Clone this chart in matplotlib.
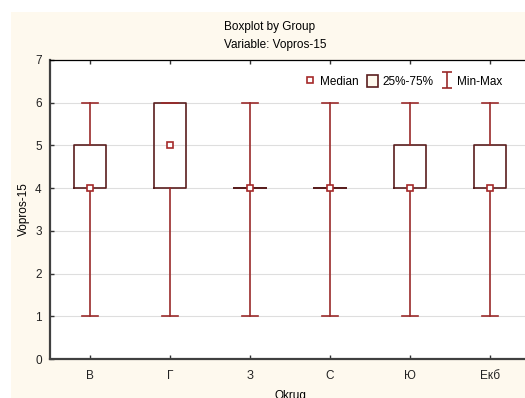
import matplotlib

matplotlib.use("Agg")
import matplotlib.pyplot as plt
from matplotlib.patches import Patch, Rectangle
from matplotlib.lines import Line2D
from matplotlib.path import Path

# data
groups = ["В", "Г", "З", "С", "Ю", "Екб"]
mins = [1, 1, 1, 1, 1, 1]
q1 = [4, 4, 4, 4, 4, 4]
medians = [4, 5, 4, 4, 4, 4]
q3 = [5, 6, 4, 4, 5, 5]
maxs = [6, 6, 6, 6, 6, 6]

plt.rcParams["font.family"] = ["Liberation Sans", "DejaVu Sans"]
plt.rcParams["font.size"] = 8.5

BOX_EDGE = "#5a1e1e"
WHISK = "#9a2a2a"
MED = "#a52a2a"
CREAM = "#fef9ee"

fig = plt.figure(figsize=(5.25, 3.98), dpi=100, facecolor="white")
fig.patches.append(Rectangle((11 / 525, 0), 1, 1 - 12 / 398, transform=fig.transFigure,
                             facecolor=CREAM, edgecolor="none", zorder=-10))

ax = fig.add_axes([50 / 525, 39 / 398, 480 / 525, 299 / 398])
ax.set_facecolor("white")

pos = list(range(1, len(groups) + 1))
stats = [dict(med=m, q1=a, q3=b, whislo=lo, whishi=hi, fliers=[])
         for m, a, b, lo, hi in zip(medians, q1, q3, mins, maxs)]
ax.bxp(stats, positions=pos, widths=0.4, capwidths=0.2, showfliers=False,
       boxprops=dict(color=BOX_EDGE, linewidth=1.2),
       whiskerprops=dict(color=WHISK, linewidth=1.2),
       capprops=dict(color=WHISK, linewidth=1.2),
       medianprops=dict(linewidth=0))
ax.plot(pos, medians, ls="none", marker="s", ms=5, mfc="white", mec=MED, mew=1.2, zorder=5)

ax.set_xlim(0.5, 6.5)
ax.set_ylim(0, 7)
ax.set_yticks(range(0, 8))
ax.set_xticks(pos)
ax.set_xticklabels(groups)
ax.yaxis.grid(True, color="#dedede", linewidth=0.8)
ax.set_axisbelow(True)
ax.tick_params(direction="in", length=3, width=1, colors="#333333", labelcolor="#222222",
               top=True, pad=6)
ax.tick_params(axis="x", pad=8)
for s in ("left", "bottom"):
    ax.spines[s].set_linewidth(1.6)
    ax.spines[s].set_color("#404040")
ax.spines["top"].set_linewidth(0.9)
ax.spines["right"].set_visible(False)

ax.set_xlabel("Okrug", labelpad=6)
ax.set_ylabel("Vopros-15", labelpad=4)

fig.text(270 / 525, 1 - 27 / 398, "Boxplot by Group", ha="center", va="center")
fig.text(275 / 525, 1 - 45 / 398, "Variable: Vopros-15", ha="center", va="center")

ibeam = Path([(0, -1), (0, 1), (-0.6, 1), (0.6, 1), (-0.6, -1), (0.6, -1)],
             [Path.MOVETO, Path.LINETO, Path.MOVETO, Path.LINETO, Path.MOVETO, Path.LINETO])
handles = [
    Line2D([], [], ls="none", marker="s", ms=5, mfc="white", mec=MED, mew=1.2),
    Patch(facecolor=CREAM, edgecolor=BOX_EDGE, linewidth=1.2),
    Line2D([], [], ls="none", marker=ibeam, ms=11, mfc="none", mec=WHISK, mew=1.2),
]
ax.legend(handles, ["Median", "25%-75%", "Min-Max"], ncol=3, loc="upper right",
          bbox_to_anchor=(457 / 480, 0.965), frameon=False, handlelength=0.9,
          handleheight=1.2, handletextpad=0.4, columnspacing=0.7, borderaxespad=0.0)

fig.savefig("out.png", dpi=100, facecolor=fig.get_facecolor())
